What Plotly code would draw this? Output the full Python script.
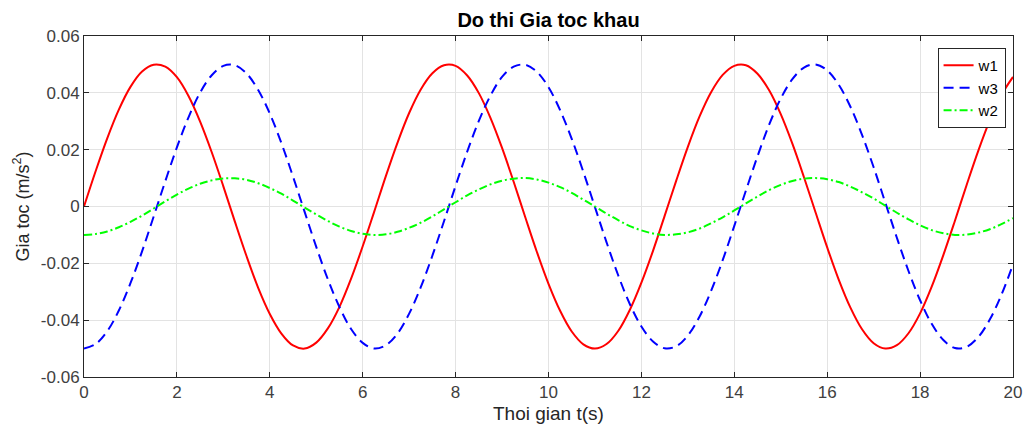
import plotly.graph_objects as go

t_step = 0.25
w1 = [0.0000, 0.0124, 0.0240, 0.0341, 0.0421, 0.0475, 0.0499, 0.0492, 0.0455, 0.0389,
      0.0299, 0.0191, 0.0071, -0.0054, -0.0175, -0.0286, -0.0378, -0.0447, -0.0489, -0.0500,
      -0.0479, -0.0429, -0.0353, -0.0254, -0.0140, -0.0017, 0.0108, 0.0225, 0.0329, 0.0412,
      0.0469, 0.0497, 0.0495, 0.0461, 0.0399, 0.0312, 0.0206, 0.0087, -0.0038, -0.0160,
      -0.0272, -0.0367, -0.0440, -0.0485, -0.0500, -0.0484, -0.0438, -0.0364, -0.0268, -0.0156,
      -0.0033, 0.0091, 0.0210, 0.0316, 0.0402, 0.0463, 0.0495, 0.0497, 0.0467, 0.0409,
      0.0325, 0.0221, 0.0103, -0.0021, -0.0144, -0.0258, -0.0356, -0.0432, -0.0481, -0.0500,
      -0.0488, -0.0446, -0.0376, -0.0282, -0.0171, -0.0050, 0.0075, 0.0195, 0.0303, 0.0392,
      0.0456]
w3 = [-0.0500, -0.0484, -0.0439, -0.0366, -0.0270, -0.0158, -0.0035, 0.0089, 0.0208, 0.0314,
      0.0401, 0.0462, 0.0495, 0.0497, 0.0468, 0.0410, 0.0327, 0.0223, 0.0105, -0.0019,
      -0.0142, -0.0256, -0.0354, -0.0431, -0.0480, -0.0500, -0.0488, -0.0447, -0.0377, -0.0284,
      -0.0173, -0.0052, 0.0073, 0.0193, 0.0301, 0.0390, 0.0456, 0.0492, 0.0499, 0.0474,
      0.0420, 0.0339, 0.0238, 0.0122, -0.0002, -0.0126, -0.0242, -0.0343, -0.0422, -0.0475,
      -0.0499, -0.0492, -0.0454, -0.0388, -0.0297, -0.0189, -0.0068, 0.0056, 0.0177, 0.0288,
      0.0380, 0.0448, 0.0489, 0.0500, 0.0479, 0.0428, 0.0351, 0.0252, 0.0138, 0.0014,
      -0.0110, -0.0227, -0.0330, -0.0413, -0.0470, -0.0498, -0.0494, -0.0460, -0.0398, -0.0311,
      -0.0204]
w2 = [-0.0100, -0.0097, -0.0088, -0.0073, -0.0054, -0.0032, -0.0007, 0.0018, 0.0042, 0.0063,
      0.0080, 0.0092, 0.0099, 0.0099, 0.0094, 0.0082, 0.0065, 0.0045, 0.0021, -0.0004,
      -0.0028, -0.0051, -0.0071, -0.0086, -0.0096, -0.0100, -0.0098, -0.0089, -0.0075, -0.0057,
      -0.0035, -0.0010, 0.0015, 0.0039, 0.0060, 0.0078, 0.0091, 0.0098, 0.0100, 0.0095,
      0.0084, 0.0068, 0.0048, 0.0024, 0.0000, -0.0025, -0.0048, -0.0069, -0.0084, -0.0095,
      -0.0100, -0.0098, -0.0091, -0.0078, -0.0059, -0.0038, -0.0014, 0.0011, 0.0035, 0.0058,
      0.0076, 0.0090, 0.0098, 0.0100, 0.0096, 0.0086, 0.0070, 0.0050, 0.0028, 0.0003,
      -0.0022, -0.0045, -0.0066, -0.0083, -0.0094, -0.0100, -0.0099, -0.0092, -0.0080, -0.0062,
      -0.0041]
t = [i * t_step for i in range(len(w1))]

x_ticks = [0, 2, 4, 6, 8, 10, 12, 14, 16, 18, 20]
y_ticks = [-0.06, -0.04, -0.02, 0, 0.02, 0.04, 0.06]
y_labels = ["-0.06", "-0.04", "-0.02", "0", "0.02", "0.04", "0.06"]

FONT = "Liberation Sans, Arial, Helvetica"

fig = go.Figure()
fig.add_trace(go.Scatter(x=t, y=w1, name="w1", mode="lines",
                         line=dict(color="#ff0000", width=2, shape="spline")))
fig.add_trace(go.Scatter(x=t, y=w3, name="w3", mode="lines",
                         line=dict(color="#0000ff", width=2, dash="10px,6px", shape="spline")))
fig.add_trace(go.Scatter(x=t, y=w2, name="w2", mode="lines",
                         line=dict(color="#00ff00", width=2, dash="8px,3px,2px,3px", shape="spline")))

axis_common = dict(showline=True, linecolor="#262626", linewidth=1, mirror="ticks",
                   ticks="inside", ticklen=5, tickcolor="#262626",
                   showgrid=True, gridcolor="#e3e3e3", gridwidth=1, zeroline=False,
                   tickfont=dict(family=FONT, size=17, color="#404040"))

fig.update_layout(
    width=1015, height=418,
    autosize=False,
    margin=dict(l=76, r=10, t=28, b=49),
    paper_bgcolor="white", plot_bgcolor="white",
    title=dict(text="<b>Do thi Gia toc khau</b>", x=0.5, xref="paper", xanchor="center",
               y=1 - 12 / 418, yanchor="middle",
               font=dict(family=FONT, size=20, color="#000000")),
    xaxis=dict(range=[0, 20], tickvals=x_ticks, ticktext=[str(v) for v in x_ticks],
               automargin=False, **axis_common),
    yaxis=dict(range=[-0.06, 0.06], tickvals=y_ticks, ticktext=y_labels,
               title=dict(text="Gia toc (m/s<sup>2</sup>)", standoff=6,
                          font=dict(family=FONT, size=18, color="#262626")),
               **axis_common),
    legend=dict(x=0.992, y=0.965, xanchor="right", yanchor="top",
                bgcolor="white", bordercolor="#262626", borderwidth=1,
                font=dict(family=FONT, size=15, color="#000000"),
                itemwidth=30, tracegroupgap=0),
    showlegend=True,
    annotations=[dict(text="Thoi gian t(s)", xref="paper", yref="paper",
                      x=0.5, y=-37 / 341, xanchor="center", yanchor="middle",
                      showarrow=False,
                      font=dict(family=FONT, size=19, color="#262626"))],
)

fig.write_html("out.html")
